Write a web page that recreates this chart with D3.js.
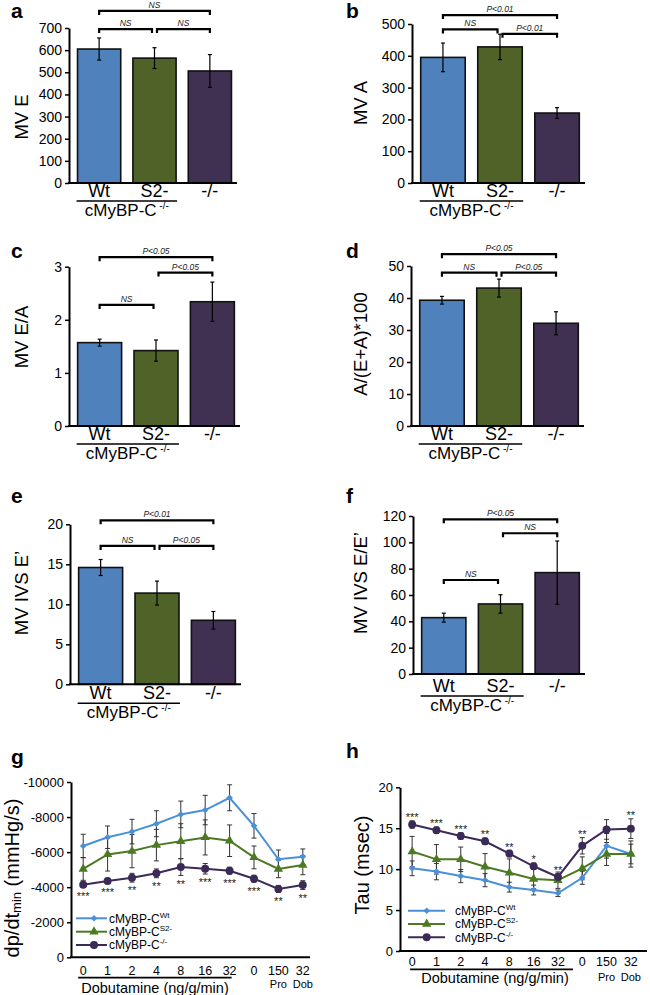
<!DOCTYPE html>
<html><head><meta charset="utf-8">
<script src="https://cdn.jsdelivr.net/npm/d3@7"></script>
<style>body{margin:0;background:#fff}svg{display:block}</style>
</head><body><script>
// ---------- DATA ----------
const groups = ["Wt", "S2-", "-/-"];
const mvE = [605, 564, 506];        const mvEErr = [50, 47, 74];
const mvA = [395, 428, 220];        const mvAErr = [45, 40, 17];
const mvEA = [1.57, 1.42, 2.34];    const mvEAErr = [0.065, 0.2, 0.37];
const aRatio = [39.3, 43.1, 32.1];  const aRatioErr = [1.2, 2.8, 3.6];
const ivsE = [14.6, 11.4, 8.0];     const ivsEErr = [1.0, 1.5, 1.1];
const ivsEE = [42.8, 53.2, 77];     const ivsEEErr = [3.4, 7, 24];

// significance brackets: [from group, to group, height (data units), text]
const bracketsA = [[0, 2, 777, "NS"], [0, 1, 695, "NS"], [1, 2, 695, "NS"]];
const bracketsB = [[0, 2, 528, "P<0.01"], [0, 1, 483, "NS"], [1, 2, 469, "P<0.01"]];
const bracketsC = [[0, 2, 3.18, "P<0.05"], [1, 2, 2.89, "P<0.05"], [0, 1, 2.28, "NS"]];
const bracketsD = [[0, 2, 53.7, "P<0.05"], [0, 1, 47.9, "NS"], [1, 2, 47.9, "P<0.05"]];
const bracketsE = [[0, 2, 20.5, "P<0.01"], [0, 1, 17.3, "NS"], [1, 2, 17.3, "P<0.05"]];
const bracketsF = [[0, 2, 117.5, "P<0.05"], [1, 2, 106.9, "NS"], [0, 1, 71.4, "NS"]];

const doseLabels = ["0", "1", "2", "4", "8", "16", "32", "0", "150", "32"];
const doseSub = ["", "", "", "", "", "", "", "", "Pro", "Dob"];

const dpWt = [-6350, -6850, -7170, -7620, -8150, -8400, -9100, -7500, -5590, -5740];
const dpWtErr = [670, 640, 700, 740, 760, 840, 740, 700, 530, 440];
const dpS2 = [-5040, -5870, -6060, -6400, -6620, -6840, -6650, -5700, -5040, -5260];
const dpS2Err = [650, 950, 950, 900, 1000, 1000, 900, 650, 500, 550];
const dpKO = [-4140, -4350, -4540, -4790, -5150, -5050, -4940, -4480, -3900, -4120];
const dpKOErr = [150, 150, 250, 250, 480, 300, 200, 200, 200, 250];
const dpStars = ["***", "***", "**", "**", "**", "***", "***", "***", "**", "**"];

const tauWt = [10.1, 9.7, 9.15, 8.65, 7.8, 7.45, 7.05, 8.95, 12.85, 11.85];
const tauWtErr = [0.9, 1.0, 0.8, 0.8, 0.6, 0.6, 0.4, 0.8, 1.5, 1.2];
const tauS2 = [12.15, 11.2, 11.2, 10.3, 9.55, 8.8, 8.65, 10.1, 11.85, 11.85];
const tauS2Err = [1.85, 1.8, 1.5, 1.6, 1.7, 1.2, 1.0, 1.4, 1.4, 1.6];
const tauKO = [15.45, 14.75, 14.05, 13.4, 11.9, 10.35, 9.05, 12.85, 14.85, 14.95];
const tauKOErr = [0.45, 0.4, 0.4, 0.4, 0.4, 0.4, 0.4, 1.0, 1.2, 1.2];
const tauStars = ["***", "***", "***", "**", "**", "*", "**", "**", "", "**"];

const legendSup = ["Wt", "S2-", "-/-"];

// ---------- STYLE ----------
const FONT = "'Liberation Sans', Arial, Helvetica, sans-serif";
const barColors = ["#4f81bd", "#4f6228", "#403152"];
const lineColors = ["#4a90d9", "#4b7a22", "#3b2a58"];

const svg = d3.select("body").append("svg")
  .attr("width", 650).attr("height", 995)
  .attr("font-family", FONT)
  .style("background", "#fff");

function label(parent, x, y, str, size, o = {}) {
  const t = parent.append("text").attr("x", x).attr("y", y)
    .attr("font-size", size).attr("fill", o.fill || "#000").text(str);
  if (o.anchor) t.attr("text-anchor", o.anchor);
  if (o.weight) t.attr("font-weight", o.weight);
  if (o.style) t.attr("font-style", o.style);
  return t;
}
function vtitle(parent, x, y, str, size) {
  return parent.append("text")
    .attr("transform", `translate(${x},${y}) rotate(-90)`)
    .attr("text-anchor", "middle").attr("dominant-baseline", "central")
    .attr("font-size", size).attr("fill", "#000").text(str);
}

function barPanel(p) {
  const g = svg.append("g");
  const x = d3.scaleBand().domain(groups).range([p.axisX + 3, p.xEnd])
    .paddingInner(0.22).paddingOuter(0.1);
  const y = d3.scaleLinear().domain([0, p.yMax]).range([p.y0, p.yTop]);
  const cx = i => x(groups[i]) + x.bandwidth() / 2;

  g.selectAll("rect.bar").data(p.values).join("rect").attr("class", "bar")
    .attr("x", (d, i) => x(groups[i])).attr("y", d => y(d))
    .attr("width", x.bandwidth()).attr("height", d => y(0) - y(d))
    .attr("fill", (d, i) => barColors[i]).attr("stroke", "#111").attr("stroke-width", 1.6);

  p.values.forEach((v, i) => {
    const e = p.errs[i];
    g.append("line").attr("x1", cx(i)).attr("x2", cx(i)).attr("y1", y(v + e)).attr("y2", y(v - e))
      .attr("stroke", "#000").attr("stroke-width", 1.2);
    [v + e, v - e].forEach(w => g.append("line").attr("x1", cx(i) - 2).attr("x2", cx(i) + 2)
      .attr("y1", y(w)).attr("y2", y(w)).attr("stroke", "#000").attr("stroke-width", 1.2));
  });

  const ax = g.append("g").attr("transform", `translate(${p.axisX},0)`)
    .call(d3.axisLeft(y).tickValues(p.ticks).tickSize(4).tickSizeOuter(0).tickPadding(3)
      .tickFormat(d => String(d)))
    .attr("font-family", FONT).attr("font-size", 14);
  ax.select(".domain").attr("stroke-width", 2);
  ax.selectAll(".tick line").attr("stroke-width", 1.5);
  ax.selectAll(".tick text").attr("fill", "#000");
  g.append("line").attr("x1", p.axisX - 1).attr("x2", p.xEnd).attr("y1", p.y0).attr("y2", p.y0)
    .attr("stroke", "#000").attr("stroke-width", 2);

  p.brackets.forEach(([i, j, val, txt]) => {
    let x1 = cx(i), x2 = cx(j);
    if (j - i === 1) { if (i === 1) x1 += 2.5; if (j === 1) x2 -= 2.5; }
    const yy = y(val);
    g.append("path").attr("d", `M${x1},${yy + 4}V${yy}H${x2}V${yy + 4}`)
      .attr("fill", "none").attr("stroke", "#000").attr("stroke-width", 2.2);
    label(g, (x1 + x2) / 2, yy - 3, txt, 8.5, { anchor: "middle", style: "italic", fill: "#222" });
  });

  groups.forEach((gn, i) => label(g, cx(i), p.y0 + p.lab, gn, 18, { anchor: "middle" }));
  const u1 = x(groups[0]) - 1, u2 = x(groups[1]) + x.bandwidth() + 1;
  g.append("line").attr("x1", u1).attr("x2", u2).attr("y1", p.y0 + p.lab + 4).attr("y2", p.y0 + p.lab + 4)
    .attr("stroke", "#000").attr("stroke-width", 1.5);
  const ct = label(g, (u1 + u2) / 2, p.y0 + p.lab + 19, "cMyBP-C", 17, { anchor: "middle" });
  ct.append("tspan").attr("font-size", 10).attr("dy", -7).text(" -/-");

  vtitle(g, p.tx, p.ty, p.title, 18.5);
  label(g, p.lx, p.ly, p.letter, 21, { weight: "bold" });
}

barPanel({ letter: "a", lx: 11, ly: 18, axisX: 69, xEnd: 237, y0: 183, yTop: 28, yMax: 700,
  ticks: d3.range(0, 701, 100), values: mvE, errs: mvEErr, brackets: bracketsA,
  title: "MV E", tx: 21, ty: 117, lab: 14 });
barPanel({ letter: "b", lx: 346, ly: 18, axisX: 412, xEnd: 585, y0: 183, yTop: 24, yMax: 500,
  ticks: d3.range(0, 501, 100), values: mvA, errs: mvAErr, brackets: bracketsB,
  title: "MV A", tx: 360, ty: 103, lab: 14 });
barPanel({ letter: "c", lx: 11, ly: 258, axisX: 69, xEnd: 240, y0: 426, yTop: 266.7, yMax: 3,
  ticks: [0, 1, 2, 3], values: mvEA, errs: mvEAErr, brackets: bracketsC,
  title: "MV E/A", tx: 21, ty: 337, lab: 14 });
barPanel({ letter: "d", lx: 346, ly: 258, axisX: 411, xEnd: 584, y0: 426, yTop: 266, yMax: 50,
  ticks: d3.range(0, 51, 10), values: aRatio, errs: aRatioErr, brackets: bracketsD,
  title: "A/(E+A)*100", tx: 360, ty: 344, lab: 14 });
barPanel({ letter: "e", lx: 11, ly: 503, axisX: 70, xEnd: 241, y0: 684.3, yTop: 524.3, yMax: 20,
  ticks: [0, 5, 10, 15, 20], values: ivsE, errs: ivsEErr, brackets: bracketsE,
  title: "MV IVS E\u2019", tx: 21, ty: 593, lab: 15 });
barPanel({ letter: "f", lx: 346, ly: 503, axisX: 413, xEnd: 585, y0: 674, yTop: 516, yMax: 120,
  ticks: d3.range(0, 121, 20), values: ivsEE, errs: ivsEEErr, brackets: bracketsF,
  title: "MV IVS E/E\u2019", tx: 360, ty: 583, lab: 18 });

function marker(sel, idx, color) {
  if (idx === 0) sel.attr("d", d3.symbol().type(d3.symbolSquare).size(22)).attr("transform", function () {
    return d3.select(this).attr("transform") + " rotate(45)"; });
  else if (idx === 1) sel.attr("d", d3.symbol().type(d3.symbolTriangle).size(38));
  else sel.attr("d", d3.symbol().type(d3.symbolCircle).size(50));
  sel.attr("fill", color);
}

function linePanel(p) {
  const g = svg.append("g");
  const x = d3.scalePoint().domain(d3.range(doseLabels.length)).range([p.axisX, p.xEnd]).padding(0.5);
  const y = d3.scaleLinear().domain(p.yDomain).range([p.y0, p.yTop]);

  const ax = g.append("g").attr("transform", `translate(${p.axisX},0)`)
    .call(d3.axisLeft(y).tickValues(p.ticks).tickSize(4).tickSizeOuter(0).tickPadding(3)
      .tickFormat(d => String(d)))
    .attr("font-family", FONT).attr("font-size", 13);
  ax.select(".domain").attr("stroke-width", 2);
  ax.selectAll(".tick line").attr("stroke-width", 1.5);
  ax.selectAll(".tick text").attr("fill", "#000");
  g.append("line").attr("x1", p.axisX - 1).attr("x2", p.axisEnd).attr("y1", p.y0).attr("y2", p.y0)
    .attr("stroke", "#000").attr("stroke-width", 2);

  doseLabels.forEach((l, i) => label(g, x(i), p.y0 + p.tl, l, 12.5, { anchor: "middle" }));
  doseSub.forEach((l, i) => { if (l) label(g, x(i), p.y0 + p.sl, l, 11, { anchor: "middle" }); });
  g.append("line").attr("x1", x(0) + p.ul[0]).attr("x2", x(6) + p.ul[1])
    .attr("y1", p.y0 + p.ulY).attr("y2", p.y0 + p.ulY).attr("stroke", "#000").attr("stroke-width", 1.8);
  label(g, p.dobX, p.y0 + p.dobY, "Dobutamine (ng/g/min)", 14.5, { anchor: "middle" });

  // error bars
  p.series.forEach((s) => {
    s.values.forEach((v, i) => {
      const e = s.errs[i];
      g.append("line").attr("x1", x(i)).attr("x2", x(i)).attr("y1", y(v - e)).attr("y2", y(v + e))
        .attr("stroke", "#333").attr("stroke-width", 1);
      [v - e, v + e].forEach(w => g.append("line").attr("x1", x(i) - 2.5).attr("x2", x(i) + 2.5)
        .attr("y1", y(w)).attr("y2", y(w)).attr("stroke", "#333").attr("stroke-width", 1));
    });
  });
  p.series.forEach((s, k) => {
    g.append("path").datum(s.values)
      .attr("d", d3.line().x((d, i) => x(i)).y(d => y(d)))
      .attr("fill", "none").attr("stroke", lineColors[k]).attr("stroke-width", 2);
  });
  p.series.forEach((s, k) => {
    const m = g.selectAll(null).data(s.values).join("path")
      .attr("transform", (d, i) => `translate(${x(i)},${y(d)})`);
    marker(m, k, lineColors[k]);
  });

  // stars
  const ko = p.series[2];
  p.stars.forEach((st, i) => {
    if (!st) return;
    const v = ko.values[i], e = ko.errs[i];
    const cy = p.starsBelow ? y(v + e) + 6 : y(v + e) - 6;
    label(g, x(i), cy + 6.3, st, 11, { anchor: "middle", fill: "#222" });
  });

  // legend
  p.series.forEach((s, k) => {
    const ly = p.legY[k];
    g.append("line").attr("x1", p.legX[0]).attr("x2", p.legX[1]).attr("y1", ly).attr("y2", ly)
      .attr("stroke", lineColors[k]).attr("stroke-width", 2);
    const m = g.append("path").attr("transform", `translate(${p.legX[2]},${ly})`);
    marker(m, k, lineColors[k]);
    const t = label(g, p.legX[3], ly + 4.3, "cMyBP-C", 12);
    t.append("tspan").attr("font-size", 8).attr("dy", -5).text(legendSup[k]);
  });

  label(g, p.lx, p.ly, p.letter, 21, { weight: "bold" });
  return g;
}

const gG = linePanel({ letter: "g", lx: 11, ly: 764, axisX: 71, xEnd: 315, axisEnd: 310,
  y0: 957.3, yTop: 782, yDomain: [0, -10000], ticks: d3.range(0, -10001, -2000),
  series: [{ values: dpWt, errs: dpWtErr }, { values: dpS2, errs: dpS2Err }, { values: dpKO, errs: dpKOErr }],
  stars: dpStars, starsBelow: true, tl: 17.2, sl: 30.2, ul: [-5, 2], ulY: 20.4, dobX: 155, dobY: 35.5,
  legY: [918.3, 931.7, 945], legX: [76, 107, 94, 109] });
const gt = gG.append("text").attr("transform", "translate(12,878) rotate(-90)")
  .attr("text-anchor", "middle").attr("dominant-baseline", "central").attr("font-size", 20).attr("fill", "#000");
gt.append("tspan").text("dp/dt");
gt.append("tspan").attr("font-size", 13).attr("dy", 4).text("min");
gt.append("tspan").attr("dy", -4).text(" (mmHg/s)");

const gH = linePanel({ letter: "h", lx: 346, ly: 758, axisX: 400, xEnd: 643, axisEnd: 647,
  y0: 951, yTop: 787.3, yDomain: [0, 20], ticks: [0, 5, 10, 15, 20],
  series: [{ values: tauWt, errs: tauWtErr }, { values: tauS2, errs: tauS2Err }, { values: tauKO, errs: tauKOErr }],
  stars: tauStars, starsBelow: false, tl: 15.2, sl: 29.5, ul: [-2, 15], ulY: 18.3, dobX: 495, dobY: 32,
  legY: [910.7, 924, 937.3], legX: [408, 445, 426.7, 455] });
vtitle(gH, 362, 865, "Tau (msec)", 20);
</script></body></html>
